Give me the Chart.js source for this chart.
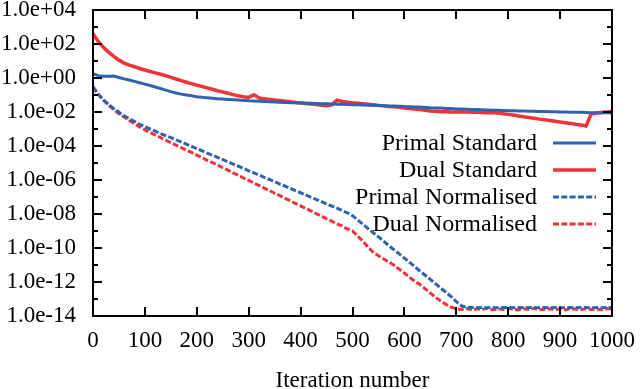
<!DOCTYPE html>
<html>
<head>
<meta charset="utf-8">
<script src="https://cdn.jsdelivr.net/npm/chart.js@4/dist/chart.umd.min.js"></script>
<style>
  html, body { margin: 0; padding: 0; background: #fff; }
  #wrap { width: 640px; height: 389px; }
</style>
</head>
<body>
<div id="wrap"><canvas id="c"></canvas></div>
<script>
// iteration numbers, one point every 10 iterations
const iterations = Array.from({ length: 101 }, (_, i) => i * 10);

// values, as log10 of the residual
const primalStandardLog = [
  0.25, 0.14, 0.1, 0.11, 0.12, 0.03, -0.05, -0.12, -0.2, -0.28,
  -0.36, -0.44, -0.53, -0.62, -0.71, -0.8, -0.88, -0.95, -1.0, -1.05,
  -1.1, -1.13, -1.16, -1.19, -1.22, -1.24, -1.26, -1.28, -1.3, -1.32,
  -1.34, -1.35, -1.37, -1.38, -1.4, -1.41, -1.42, -1.44, -1.45, -1.46,
  -1.47, -1.48, -1.49, -1.5, -1.51, -1.52, -1.53, -1.54, -1.55, -1.56,
  -1.57, -1.58, -1.59, -1.6, -1.61, -1.62, -1.63, -1.64, -1.65, -1.66,
  -1.68, -1.69, -1.7, -1.71, -1.73, -1.75, -1.76, -1.77, -1.79, -1.8,
  -1.82, -1.83, -1.84, -1.85, -1.86, -1.87, -1.88, -1.89, -1.9, -1.91,
  -1.92, -1.93, -1.94, -1.94, -1.95, -1.96, -1.97, -1.97, -1.98, -1.99,
  -2.0, -2.0, -2.01, -2.02, -2.02, -2.03, -2.04, -2.04, -2.05, -2.05,
  -2.06
];
const dualStandardLog = [
  2.6, 2.15, 1.8, 1.52, 1.27, 1.05, 0.88, 0.76, 0.66, 0.56,
  0.47, 0.38, 0.3, 0.22, 0.14, 0.04, -0.06, -0.15, -0.25, -0.33,
  -0.42, -0.5, -0.58, -0.66, -0.75, -0.82, -0.9, -0.98, -1.05, -1.1,
  -1.14, -0.98, -1.18, -1.22, -1.26, -1.3, -1.33, -1.36, -1.4, -1.44,
  -1.47, -1.5, -1.53, -1.56, -1.6, -1.63, -1.58, -1.3, -1.38, -1.42,
  -1.46, -1.49, -1.52, -1.55, -1.58, -1.61, -1.64, -1.67, -1.69, -1.72,
  -1.76, -1.79, -1.82, -1.86, -1.9, -1.94, -1.96, -1.98, -1.99, -2.0,
  -2.0, -1.99, -2.0, -2.01, -2.02, -2.03, -2.04, -2.05, -2.06, -2.1,
  -2.14, -2.18, -2.23, -2.28, -2.33, -2.37, -2.42, -2.46, -2.5, -2.55,
  -2.59, -2.63, -2.67, -2.72, -2.76, -2.82, -2.1, -2.06, -2.03, -2.0,
  -1.97
];
const primalNormalisedLog = [
  -0.55, -0.95, -1.28, -1.55, -1.8, -2.02, -2.22, -2.4, -2.56, -2.72,
  -2.87, -3.0, -3.13, -3.27, -3.39, -3.51, -3.64, -3.76, -3.89, -4.02,
  -4.15, -4.28, -4.42, -4.54, -4.67, -4.8, -4.93, -5.07, -5.19, -5.32,
  -5.46, -5.58, -5.71, -5.85, -5.97, -6.1, -6.24, -6.36, -6.49, -6.63,
  -6.75, -6.88, -7.02, -7.14, -7.27, -7.41, -7.53, -7.66, -7.8, -7.93,
  -8.1, -8.35, -8.6, -8.86, -9.1, -9.35, -9.6, -9.86, -10.1, -10.35,
  -10.6, -10.85, -11.1, -11.36, -11.6, -11.85, -12.1, -12.36, -12.6, -12.86,
  -13.15, -13.4, -13.5, -13.5, -13.52, -13.5, -13.51, -13.5, -13.52, -13.5,
  -13.5, -13.51, -13.5, -13.52, -13.5, -13.5, -13.51, -13.5, -13.52, -13.5,
  -13.5, -13.51, -13.5, -13.52, -13.5, -13.5, -13.51, -13.5, -13.52, -13.5,
  -13.5
];
const dualNormalisedLog = [
  -0.5, -0.95, -1.3, -1.6, -1.85, -2.1, -2.3, -2.5, -2.7, -2.88,
  -3.05, -3.2, -3.36, -3.5, -3.66, -3.8, -3.95, -4.1, -4.25, -4.38,
  -4.54, -4.68, -4.84, -4.98, -5.12, -5.28, -5.42, -5.58, -5.72, -5.88,
  -6.02, -6.18, -6.32, -6.48, -6.62, -6.78, -6.92, -7.08, -7.22, -7.38,
  -7.52, -7.68, -7.82, -7.98, -8.12, -8.28, -8.42, -8.58, -8.7, -8.88,
  -9.0, -9.3, -9.6, -9.95, -10.25, -10.45, -10.65, -10.82, -11.02, -11.25,
  -11.48, -11.72, -11.95, -12.15, -12.4, -12.65, -12.9, -13.12, -13.32, -13.48,
  -13.58, -13.62, -13.56, -13.64, -13.58, -13.6, -13.55, -13.63, -13.59, -13.62,
  -13.56, -13.6, -13.64, -13.57, -13.61, -13.55, -13.63, -13.6, -13.57, -13.62,
  -13.58, -13.64, -13.56, -13.6, -13.62, -13.57, -13.61, -13.59, -13.63, -13.56,
  -13.6
];

const seriesNames = ['Primal Standard', 'Dual Standard', 'Primal Normalised', 'Dual Normalised'];
const xTickValues = [0, 100, 200, 300, 400, 500, 600, 700, 800, 900, 1000];
const yTickLabels = ['1.0e+04', '1.0e+02', '1.0e+00', '1.0e-02', '1.0e-04', '1.0e-06',
  '1.0e-08', '1.0e-10', '1.0e-12', '1.0e-14'];
const yMinorExps = [3, 1, -1, -3, -5, -7, -9, -11, -13];

const BLUE = '#2e63b0';
const RED = '#ef3339';
const FONT = "'Liberation Serif', 'DejaVu Serif', serif";

const yTickValues = yTickLabels.map(Number);
const pts = logs => iterations.map((x, i) => ({ x, y: Math.pow(10, logs[i]) }));

// legend on the right inside the plot, text first and sample line after it
const legendPlugin = {
  id: 'gpLegend',
  afterDraw(chart) {
    const { ctx, chartArea } = chart;
    ctx.save();
    ctx.font = '24px ' + FONT;
    ctx.textAlign = 'right';
    ctx.textBaseline = 'middle';
    chart.data.datasets.forEach((ds, i) => {
      const y = chartArea.top + 133 + i * 27;
      ctx.fillStyle = '#000';
      ctx.fillText(ds.label, chartArea.right - 75, y + 1);
      ctx.strokeStyle = ds.borderColor;
      ctx.lineWidth = ds.borderWidth;
      ctx.setLineDash(ds.borderDash || []);
      ctx.beginPath();
      ctx.moveTo(chartArea.right - 59, y);
      ctx.lineTo(chartArea.right - 16, y);
      ctx.stroke();
    });
    ctx.restore();
  }
};

// gnuplot style frame with ticks pointing inward on all four sides
const framePlugin = {
  id: 'gpFrame',
  afterDraw(chart) {
    const { ctx, chartArea: a, scales } = chart;
    ctx.save();
    ctx.strokeStyle = '#000';
    ctx.lineWidth = 2;
    ctx.setLineDash([]);
    ctx.beginPath();
    xTickValues.forEach(v => {
      const px = Math.round(scales.x.getPixelForValue(v));
      ctx.moveTo(px, a.bottom); ctx.lineTo(px, a.bottom - 9);
      ctx.moveTo(px, a.top); ctx.lineTo(px, a.top + 9);
    });
    yTickValues.forEach(v => {
      const py = Math.round(scales.y.getPixelForValue(v));
      ctx.moveTo(a.left, py); ctx.lineTo(a.left + 9, py);
      ctx.moveTo(a.right, py); ctx.lineTo(a.right - 9, py);
    });
    yMinorExps.forEach(e => {
      const py = Math.round(scales.y.getPixelForValue(Math.pow(10, e)));
      ctx.moveTo(a.left, py); ctx.lineTo(a.left + 5, py);
      ctx.moveTo(a.right, py); ctx.lineTo(a.right - 5, py);
    });
    ctx.stroke();
    ctx.strokeRect(a.left, a.top, a.right - a.left, a.bottom - a.top);
    ctx.restore();
  }
};

new Chart(document.getElementById('c'), {
  type: 'line',
  data: {
    datasets: [
      { label: seriesNames[0], data: pts(primalStandardLog), borderColor: BLUE, borderWidth: 3 },
      { label: seriesNames[1], data: pts(dualStandardLog), borderColor: RED, borderWidth: 3.5 },
      { label: seriesNames[2], data: pts(primalNormalisedLog), borderColor: BLUE, borderWidth: 3, borderDash: [6, 2.3] },
      { label: seriesNames[3], data: pts(dualNormalisedLog), borderColor: RED, borderWidth: 3, borderDash: [6, 2.3] }
    ]
  },
  options: {
    responsive: true,
    maintainAspectRatio: false,
    animation: false,
    events: [],
    elements: { point: { radius: 0 }, line: { tension: 0 } },
    layout: { padding: { top: 10, right: 28, left: 0, bottom: 0 } },
    plugins: { legend: { display: false }, tooltip: { enabled: false } },
    scales: {
      x: {
        type: 'linear',
        min: 0,
        max: 1000,
        afterBuildTicks: s => { s.ticks = xTickValues.map(v => ({ value: v })); },
        afterFit: s => { s.height = 73; s.paddingLeft = 0; s.paddingRight = 0; },
        grid: { display: false, drawTicks: false },
        border: { display: false },
        ticks: { color: '#000', padding: 11, maxRotation: 0, autoSkip: false,
          font: { family: FONT, size: 23 }, callback: v => String(v) },
        title: { display: true, text: 'Iteration number', color: '#000',
          font: { family: FONT, size: 23, lineHeight: 1 }, padding: { top: 0, bottom: -3 } }
      },
      y: {
        type: 'logarithmic',
        min: 1e-14,
        max: 1e4,
        afterBuildTicks: s => { s.ticks = yTickValues.map(v => ({ value: v })); },
        afterFit: s => { s.width = 93; s.paddingTop = 0; s.paddingBottom = 0; },
        grid: { display: false, drawTicks: false },
        border: { display: false },
        ticks: {
          color: '#000', padding: 17, autoSkip: false,
          font: { family: FONT, size: 23 },
          callback: (v) => yTickLabels[yTickValues.indexOf(v)] ?? ''
        }
      }
    }
  },
  plugins: [legendPlugin, framePlugin]
});
</script>
</body>
</html>
